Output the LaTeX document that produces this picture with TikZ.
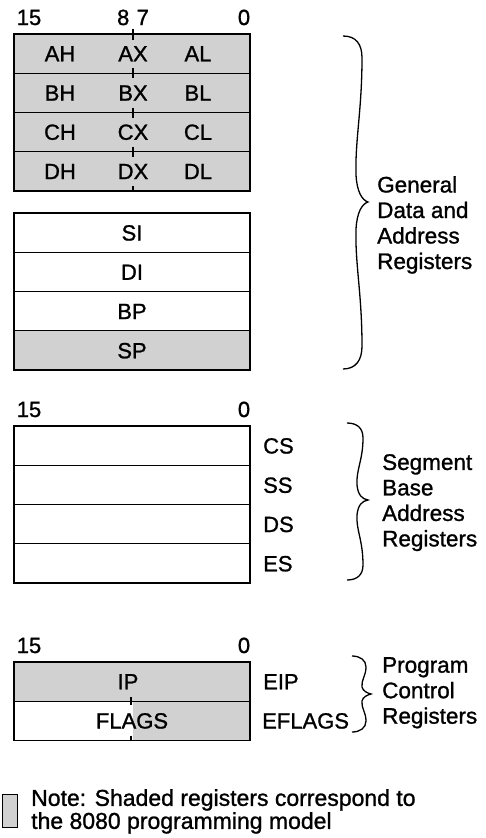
\documentclass[tikz,border=0pt]{standalone}
\usepackage{fontspec}
\setmainfont{Liberation Sans}[FakeBold=1.1]
\begin{document}
\begin{tikzpicture}[x=1pt,y=-1pt,
  reg/.style={draw, line width=1.3pt, minimum width=236pt, minimum height=39.25pt, inner sep=0pt, outer sep=0pt, anchor=north west},
  shaded/.style={fill=black!18},
  lbl/.style={font=\fontsize{22}{25}\selectfont, inner sep=0pt, anchor=base},
  side/.style={lbl, anchor=base west},
  multi/.style={font=\fontsize{22.5}{25.5}\selectfont, inner sep=0pt, anchor=north west, align=left},
  tickline/.style={line width=1.1pt},
  bracestyle/.style={line width=1.3pt}]
\useasboundingbox (0,0) rectangle (486,838);

% ---------- group 1: general data registers ----------
\node[lbl] (b15a) at (29,25) {15};
\node[lbl] (b87a) at (133,25) {8\,\,7};
\node[lbl] (b0a) at (244,25) {0};
\node[reg, shaded] (rax) at (14,34) {};
\node[reg, shaded] (rbx) at (14,73.25) {};
\node[reg, shaded] (rcx) at (14,112.5) {};
\node[reg, shaded] (rdx) at (14,151.75) {};
\node[lbl] (ah) at (60,61.3) {AH};
\node[lbl] (ax) at (133,61.3) {AX};
\node[lbl] (al) at (198,61.3) {AL};
\node[lbl] (bh) at (60,100.6) {BH};
\node[lbl] (bx) at (133,100.6) {BX};
\node[lbl] (bl) at (198,100.6) {BL};
\node[lbl] (ch) at (60,139.8) {CH};
\node[lbl] (cx) at (133,139.8) {CX};
\node[lbl] (cl) at (198,139.8) {CL};
\node[lbl] (dh) at (60,179.1) {DH};
\node[lbl] (dx) at (133,179.1) {DX};
\node[lbl] (dl) at (198,179.1) {DL};
\draw[tickline] (133,29) -- (133,40);
\draw[tickline] (133,68.25) -- (133,78.25);
\draw[tickline] (133,107.5) -- (133,117.5);
\draw[tickline] (133,146.75) -- (133,156.75);
\draw[tickline] (133,186) -- (133,191);

\node[reg] (rsi) at (14,213) {};
\node[reg] (rdi) at (14,252.25) {};
\node[reg] (rbp) at (14,291.5) {};
\node[reg, shaded] (rsp) at (14,330.75) {};
\node[lbl] (si) at (rsi.center) [yshift=-7.9pt] {SI};
\node[lbl] (di) at (rdi.center) [yshift=-7.9pt] {DI};
\node[lbl] (bp) at (rbp.center) [yshift=-7.9pt] {BP};
\node[lbl] (sp) at (rsp.center) [yshift=-7.9pt] {SP};

\draw[bracestyle] (343,36) .. controls (356,36) and (362,44) .. (362,58)
  .. controls (362,110) and (355,140) .. (356,175)
  .. controls (357,192) and (362,200) .. (368,202)
  .. controls (362,204) and (357,212) .. (356,229)
  .. controls (355,264) and (362,294) .. (362,346)
  .. controls (362,360) and (356,369) .. (343,369);
\node[multi] (gen) at (377,176) {General\\Data and\\Address\\Registers};

% ---------- group 3: segment registers ----------
\node[lbl] (b15b) at (29,417) {15};
\node[lbl] (b0b) at (244,417) {0};
\node[reg] (rcs) at (14,426) {};
\node[reg] (rss) at (14,465.25) {};
\node[reg] (rds) at (14,504.5) {};
\node[reg] (res) at (14,543.75) {};
\node[side] (cs) at (263,453.5) {CS};
\node[side] (ss) at (263,492.8) {SS};
\node[side] (ds) at (263,532) {DS};
\node[side] (es) at (263,571.3) {ES};
\draw[bracestyle] (347,423) .. controls (357,423) and (363,428) .. (363,438)
  .. controls (363,460) and (356,470) .. (357,485)
  .. controls (358,495) and (362,499) .. (368,500)
  .. controls (362,501) and (358,505) .. (357,515)
  .. controls (356,530) and (363,540) .. (363,565)
  .. controls (363,575) and (357,580) .. (347,580);
\node[multi] (seg) at (382,454) {Segment\\Base\\Address\\Registers};

% ---------- group 4: program control ----------
\node[lbl] (b15c) at (29,653) {15};
\node[lbl] (b0c) at (244,653) {0};
\fill[black!18] (133,701.25) rectangle (250,740.5);
\node[reg, shaded] (rip) at (14,662) {};
\node[reg] (rfl) at (14,701.25) {};
\node[lbl] (ip) at (128,689.3) {IP};
\node[lbl] (flags) at (132,728.5) {FLAGS};
\draw[tickline] (131,697.25) -- (131,705.25);
\draw[tickline] (131,735.5) -- (131,740.5);
\node[side] (eip) at (263,689.3) {EIP};
\node[side] (eflags) at (262,728.5) {EFLAGS};
\draw[bracestyle] (352,656) .. controls (360,656) and (366,660) .. (366,667)
  .. controls (366,676) and (361,680) .. (362,687)
  .. controls (363,691) and (367,693) .. (371,694)
  .. controls (367,695) and (363,697) .. (362,701)
  .. controls (361,708) and (366,712) .. (366,721)
  .. controls (366,728) and (360,732) .. (352,732);
\node[multi] (prog) at (382,657) {Program\\Control\\Registers};

% ---------- note ----------
\node[draw, line width=0.8pt, fill=black!18, minimum width=15pt, minimum height=33pt, inner sep=0pt, anchor=north west] (key) at (2,794) {};
\node[multi, font=\fontsize{23}{23}\selectfont] (note) at (31,789) {Note: Shaded registers correspond to\\the 8080 programming model};
\end{tikzpicture}
\end{document}
